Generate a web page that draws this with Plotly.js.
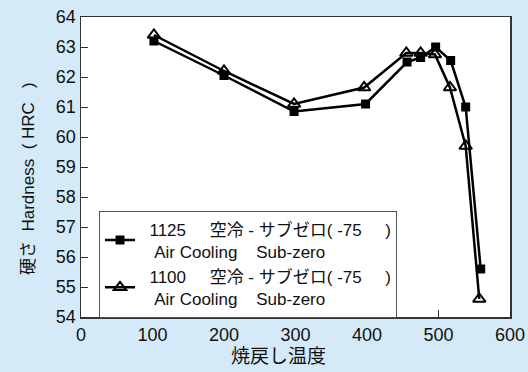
<!DOCTYPE html>
<html>
<head>
<meta charset="utf-8">
<script src="https://cdn.plot.ly/plotly-3.0.1.min.js"></script>
<style>html,body{margin:0;padding:0;background:#d5eaf8;}</style>
</head>
<body>
<div id="chart" style="width:528px;height:372px;"></div>
<script>
const temps1125 = [102, 200, 298, 398, 456, 475, 496, 517, 538, 559];
const hard1125  = [63.2, 62.05, 60.85, 61.1, 62.5, 62.65, 63.0, 62.55, 61.0, 55.6];
const temps1100 = [102, 200, 298, 396, 455, 475, 495, 516, 538, 557];
const hard1100  = [63.4, 62.2, 61.1, 61.65, 62.8, 62.8, 62.75, 61.65, 59.7, 54.6];
const S = "\u00a0";
const line2 = S.repeat(3) + "Air Cooling" + S.repeat(4) + "Sub-zero";
const name1125 = S.repeat(2) + "1125" + S.repeat(5) + "空冷" + S + "-" + S + "サブゼロ(" + S + "-75" + S.repeat(5) + ")<br>" + line2;
const name1100 = S.repeat(2) + "1100" + S.repeat(5) + "空冷" + S + "-" + S + "サブゼロ(" + S + "-75" + S.repeat(5) + ")<br>" + line2;
const xTicks = [0, 100, 200, 300, 400, 500, 600];
const yTicks = [54, 55, 56, 57, 58, 59, 60, 61, 62, 63, 64];
const xTitle = "焼戻し温度";
const yTitle = "硬さ" + S.repeat(2) + "Hardness" + S.repeat(2) + "(" + S + "HRC" + S.repeat(3) + ")";

const font = "Liberation Sans, Arial, Noto Sans CJK JP, sans-serif";
const traces = [
  {x: temps1125, y: hard1125, name: name1125, mode: "lines+markers", type: "scatter",
   line: {color: "#000", width: 2.5},
   marker: {symbol: "square", size: 9, color: "#000"}},
  {x: temps1100, y: hard1100, name: name1100, mode: "lines+markers", type: "scatter",
   line: {color: "#000", width: 2.5},
   marker: {symbol: "triangle-up-open", size: 11, color: "#000", line: {width: 2, color: "#000"}}}
];
const layout = {
  width: 528, height: 372,
  margin: {l: 81, r: 18, t: 17, b: 55},
  paper_bgcolor: "#d5eaf8", plot_bgcolor: "#ffffff",
  font: {family: font, size: 18, color: "#111"},
  showlegend: true,
  legend: {x: 0.042, y: 0.355, xanchor: "left", yanchor: "top",
    bgcolor: "#ffffff", bordercolor: "#555", borderwidth: 1,
    font: {family: font, size: 17, color: "#111"}, tracegroupgap: 0, itemwidth: 30},
  xaxis: {range: [0, 600], tickvals: xTicks, ticktext: xTicks.map(String),
    ticks: "inside", ticklen: 7, tickcolor: "#333", showline: true, linecolor: "#333", linewidth: 1.5,
    mirror: true, showgrid: false, zeroline: false, ticklabelstandoff: 1,
    tickfont: {size: 18}},
  yaxis: {range: [54, 64], tickvals: yTicks, ticktext: yTicks.map(String),
    ticks: "inside", ticklen: 7, tickcolor: "#333", showline: true, linecolor: "#333", linewidth: 1.5,
    mirror: true, showgrid: false, zeroline: false,
    tickfont: {size: 18}},
  annotations: [
    {text: xTitle, xref: "paper", yref: "paper", x: 0.4615, y: 0, xanchor: "center", yanchor: "middle",
     yshift: -39, showarrow: false, font: {size: 19, color: "#111"}},
    {text: yTitle, xref: "paper", yref: "paper", x: 0, y: 0.46, xanchor: "center", yanchor: "middle",
     xshift: -53, textangle: -90, showarrow: false, font: {size: 17, color: "#111"}}
  ]
};
Plotly.newPlot("chart", traces, layout, {displayModeBar: false, staticPlot: true});
</script>
</body>
</html>
